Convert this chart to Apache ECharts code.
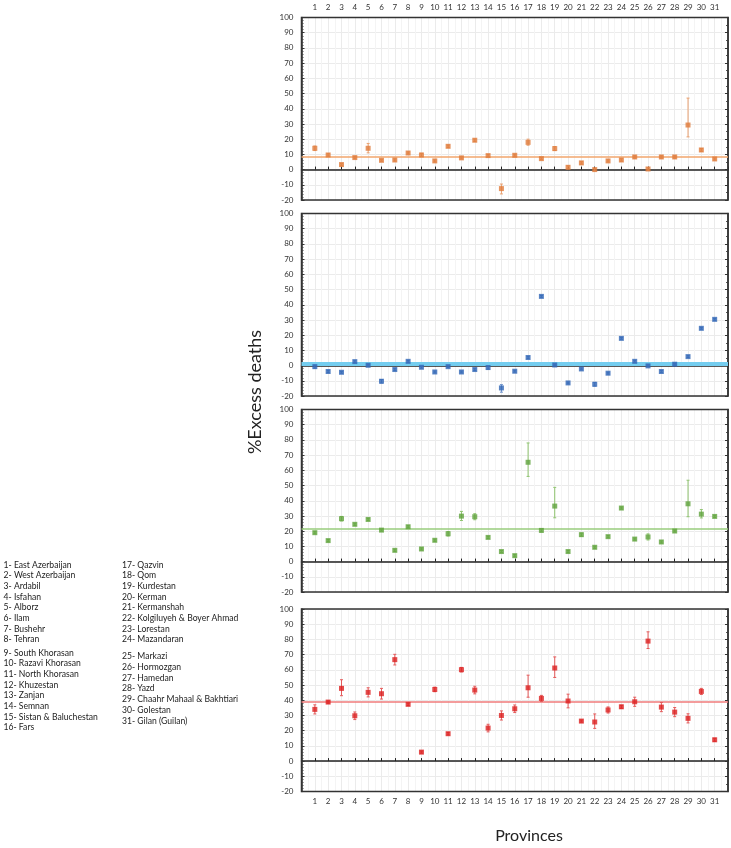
<!DOCTYPE html>
<html>
<head>
<meta charset="utf-8">
<script src="https://cdn.jsdelivr.net/npm/echarts@6/dist/echarts.min.js"></script>
<style>html,body{margin:0;padding:0;background:#fff;}#chart{width:731px;height:848px;}</style>
</head>
<body>
<div id="chart"></div>
<script>
const provinceIds = ['1','2','3','4','5','6','7','8','9','10','11','12','13','14','15','16','17','18','19','20','21','22','23','24','25','26','27','28','29','30','31'];
const provinceNames = ['1- East Azerbaijan','2- West Azerbaijan','3- Ardabil','4- Isfahan','5- Alborz','6- Ilam','7- Bushehr','8- Tehran','9- South Khorasan','10- Razavi Khorasan','11- North Khorasan','12- Khuzestan','13- Zanjan','14- Semnan','15- Sistan & Baluchestan','16- Fars','17- Qazvin','18- Qom','19- Kurdestan','20- Kerman','21- Kermanshah','22- Kolgiluyeh & Boyer Ahmad','23- Lorestan','24- Mazandaran','25- Markazi','26- Hormozgan','27- Hamedan','28- Yazd','29- Chaahr Mahaal & Bakhtiari','30- Golestan','31- Gilan (Guilan)'];
const yTicks = [-20, 100, 10];

const orangeVal  = [14.0, 9.6, 3.3, 7.9, 14.0, 6.1, 6.3, 10.9, 9.6, 5.7, 15.3, 7.7, 19.3, 9.2, -12.5, 9.4, 17.9, 7.2, 13.8, 1.5, 4.4, 0.0, 5.7, 6.3, 8.3, 0.4, 8.3, 8.3, 29.3, 12.9, 7.0];
const orangeLow  = [12.5, 8.8, 2.5, 7.2, 11.0, 5.5, 5.6, 10.2, 8.5, 5.0, 14.5, 7.0, 18.5, 8.5, -16.0, 8.7, 16.0, 6.5, 12.5, 0.5, 3.6, -0.8, 5.0, 5.5, 7.5, -0.4, 7.5, 7.5, 21.5, 12.0, 6.3];
const orangeHigh = [15.5, 10.4, 4.1, 8.6, 17.2, 6.7, 7.0, 11.6, 10.7, 6.4, 16.1, 8.4, 20.1, 9.9, -9.5, 10.1, 20.0, 7.9, 15.1, 2.5, 5.2, 0.8, 6.4, 7.1, 9.1, 1.2, 9.1, 9.1, 47.0, 13.8, 7.7];
const orangeMean = 8.5;

const blueVal  = [-0.7, -3.9, -4.4, 2.6, 0.2, -10.3, -2.6, 2.8, -1.1, -4.2, -0.7, -4.2, -2.6, -1.3, -14.7, -3.7, 5.3, 45.5, 0.4, -11.4, -2.2, -12.3, -5.0, 17.9, 2.8, -0.2, -3.9, 0.9, 5.9, 24.5, 30.4];
const blueLow  = [-1.7, -4.5, -5.0, 2.0, -0.4, -11.5, -3.2, 2.2, -1.7, -4.8, -1.3, -4.8, -3.2, -2.3, -17.5, -4.3, 4.7, 44.9, -0.2, -12.0, -2.8, -13.5, -5.6, 17.3, 2.2, -0.8, -4.5, 0.3, 5.3, 23.9, 29.8];
const blueHigh = [0.3, -3.3, -3.8, 3.2, 0.8, -9.2, -2.0, 3.4, -0.5, -3.6, -0.1, -3.6, -2.0, -0.3, -12.5, -3.1, 5.9, 46.1, 1.0, -10.8, -1.6, -11.0, -4.4, 18.5, 3.4, 0.4, -3.3, 1.5, 6.5, 25.1, 31.0];
const blueMean = 1.5;

const greenVal  = [19.0, 13.8, 28.2, 24.5, 27.7, 20.7, 7.4, 22.9, 8.3, 14.0, 18.3, 29.9, 29.5, 15.9, 6.6, 3.9, 65.3, 20.5, 36.5, 6.6, 17.7, 9.4, 16.4, 35.2, 14.8, 16.2, 12.9, 20.1, 38.0, 31.2, 29.7];
const greenLow  = [18.3, 13.1, 26.7, 23.8, 27.0, 20.0, 6.7, 22.2, 7.6, 13.3, 16.8, 27.0, 27.5, 15.2, 5.9, 3.2, 56.0, 19.5, 28.8, 5.9, 16.7, 8.7, 15.7, 34.5, 14.1, 14.2, 12.2, 19.4, 29.5, 28.7, 29.0];
const greenHigh = [19.7, 14.5, 29.7, 25.2, 28.4, 21.4, 8.1, 23.6, 9.0, 14.7, 19.8, 33.0, 31.5, 16.6, 7.3, 4.6, 78.0, 21.5, 48.8, 7.3, 18.7, 10.1, 17.1, 35.9, 15.5, 18.2, 13.6, 20.8, 53.5, 34.2, 30.4];
const greenMean = 21.6;

const redVal  = [34.0, 38.8, 47.8, 29.8, 45.2, 44.3, 66.7, 37.3, 5.9, 47.1, 18.0, 60.1, 46.7, 21.7, 30.0, 34.4, 48.2, 41.2, 61.2, 39.5, 26.3, 25.7, 33.6, 35.7, 39.0, 78.9, 35.5, 32.2, 28.1, 45.8, 14.0];
const redLow  = [31.0, 38.0, 43.0, 27.3, 42.2, 40.8, 63.2, 36.5, 5.2, 45.6, 17.2, 58.6, 44.2, 19.2, 27.0, 31.9, 42.0, 39.2, 55.0, 35.0, 25.6, 21.5, 31.6, 34.7, 36.0, 74.0, 32.5, 29.2, 25.1, 43.8, 13.0];
const redHigh = [37.0, 39.6, 53.5, 32.3, 48.2, 47.8, 70.2, 38.1, 6.6, 48.6, 18.8, 61.6, 49.2, 24.2, 33.0, 36.9, 56.5, 43.2, 68.5, 44.0, 27.0, 31.0, 35.6, 36.7, 42.0, 85.0, 38.5, 35.2, 31.1, 47.8, 15.0];
const redMean = 38.8;

const panels = [
  {val: orangeVal, low: orangeLow, high: orangeHigh, mean: orangeMean, color: '#e07b39', err: '#e9a070', meanColor: '#f2a66c', meanWidth: 1.5},
  {val: blueVal, low: blueLow, high: blueHigh, mean: blueMean, color: '#3065b5', err: '#6f93cc', meanColor: '#74cdef', meanWidth: 4},
  {val: greenVal, low: greenLow, high: greenHigh, mean: greenMean, color: '#5fa33c', err: '#8fc46f', meanColor: '#98cc7c', meanWidth: 1.5},
  {val: redVal, low: redLow, high: redHigh, mean: redMean, color: '#dc1f1f', err: '#e45a5a', meanColor: '#f07b7b', meanWidth: 1.5}
];

const FONT = 'Lato';
const tops = [17.5, 213.5, 409.5, 609];
const gridH = 182.5;

const grids = [], xAxes = [], yAxes = [], series = [];
panels.forEach((p, i) => {
  grids.push({left: 301.5, width: 426.5, top: tops[i], height: gridH, show: true, z: 1, borderColor: '#333', borderWidth: 1.5, backgroundColor: 'transparent'});
  xAxes.push({
    gridIndex: i, type: 'value', min: 0, max: 32, interval: 1,
    axisLine: {show: true, onZero: true, lineStyle: {color: '#222', width: 1.5}},
    axisTick: {show: true, inside: true, length: 3, lineStyle: {color: '#222'}},
    axisLabel: {show: false},
    splitLine: {show: true, lineStyle: {color: '#ebebeb', width: 1}},
    minorTick: {show: false, splitNumber: 2},
    minorSplitLine: {show: true, lineStyle: {color: '#f4f4f4', width: 1}}
  });
  yAxes.push({
    gridIndex: i, type: 'value', min: yTicks[0], max: yTicks[1], interval: yTicks[2],
    axisLine: {show: true, onZero: false, lineStyle: {color: '#333', width: 1.5}},
    axisTick: {show: true, inside: true, length: 3, lineStyle: {color: '#333'}},
    minorTick: {show: true, splitNumber: 5, length: 2, lineStyle: {color: '#555'}},
    axisLabel: {fontFamily: FONT, fontSize: 8, color: '#333', margin: 8},
    splitLine: {show: true, lineStyle: {color: '#ebebeb', width: 1}},
    minorSplitLine: {show: false}
  });
  yAxes.push({
    gridIndex: i, type: 'value', position: 'right', min: yTicks[0], max: yTicks[1], interval: yTicks[2],
    axisLine: {show: true, onZero: false, lineStyle: {color: '#333', width: 1.5}},
    axisTick: {show: true, inside: true, length: 3, lineStyle: {color: '#333'}},
    minorTick: {show: true, splitNumber: 2, length: 2, lineStyle: {color: '#555'}},
    axisLabel: {show: false}, splitLine: {show: false}
  });
  const yIdx = i * 2;
  series.push({
    type: 'custom', xAxisIndex: i, yAxisIndex: yIdx, z: 3, silent: true,
    data: p.val.map((v, k) => [k + 1, p.low[k], p.high[k]]),
    encode: {x: 0, y: [1, 2]},
    renderItem: (params, api) => {
      const a = api.coord([api.value(0), api.value(1)]);
      const b = api.coord([api.value(0), api.value(2)]);
      const st = {stroke: p.err, lineWidth: 1};
      return {type: 'group', children: [
        {type: 'line', shape: {x1: a[0], y1: a[1], x2: b[0], y2: b[1]}, style: st},
        {type: 'line', shape: {x1: a[0] - 1.5, y1: a[1], x2: a[0] + 1.5, y2: a[1]}, style: st},
        {type: 'line', shape: {x1: b[0] - 1.5, y1: b[1], x2: b[0] + 1.5, y2: b[1]}, style: st}
      ]};
    }
  });
  series.push({
    type: 'scatter', xAxisIndex: i, yAxisIndex: yIdx, z: 4, silent: true,
    symbol: 'rect', symbolSize: 5,
    itemStyle: {color: p.color},
    data: p.val.map((v, k) => [k + 1, v]),
    markLine: {
      silent: true, symbol: 'none', label: {show: false}, z: 2,
      lineStyle: {color: p.meanColor, width: p.meanWidth, type: 'solid'},
      data: [{yAxis: p.mean}]
    }
  });
});

// tick-label axes (top of first panel, bottom of last panel)
const lblFmt = v => (v >= 1 && v <= 31) ? provinceIds[v - 1] : '';
xAxes.push({gridIndex: 0, type: 'value', position: 'top', min: 0, max: 32, interval: 1,
  axisLine: {show: false, onZero: false}, axisTick: {show: false}, splitLine: {show: false},
  axisLabel: {formatter: lblFmt, fontFamily: FONT, fontSize: 8, color: '#333', margin: 6}});
xAxes.push({gridIndex: 3, type: 'value', position: 'bottom', min: 0, max: 32, interval: 1,
  axisLine: {show: false, onZero: false}, axisTick: {show: false}, splitLine: {show: false},
  axisLabel: {formatter: lblFmt, fontFamily: FONT, fontSize: 8, color: '#333', margin: 6}});

const graphics = [];
provinceNames.forEach((name, i) => {
  let x, y;
  if (i < 16) {
    x = 3.5;
    y = i < 8 ? 566 + i * 10.67 : 654 + (i - 8) * 10.67;
  } else {
    const k = i - 16;
    x = 122;
    y = k < 8 ? 566 + k * 10.67 : 657.7 + (k - 8) * 10.67;
  }
  graphics.push({type: 'text', left: x, top: y - 5.5, silent: true,
    style: {text: name, font: '8.6px ' + FONT, fill: '#222'}});
});
graphics.push({type: 'text', x: 255, y: 392, rotation: Math.PI / 2, silent: true,
  style: {text: '%Excess deaths', font: '18px ' + FONT, fill: '#222', textAlign: 'center', textVerticalAlign: 'middle'}});
graphics.push({type: 'text', x: 529, y: 836, silent: true,
  style: {text: 'Provinces', font: '16px ' + FONT, fill: '#222', textAlign: 'center', textVerticalAlign: 'middle'}});

const chart = echarts.init(document.getElementById('chart'), null, {renderer: 'canvas'});
chart.setOption({
  animation: false,
  backgroundColor: '#fff',
  grid: grids, xAxis: xAxes, yAxis: yAxes, series: series, graphic: graphics
});
</script>
</body>
</html>
